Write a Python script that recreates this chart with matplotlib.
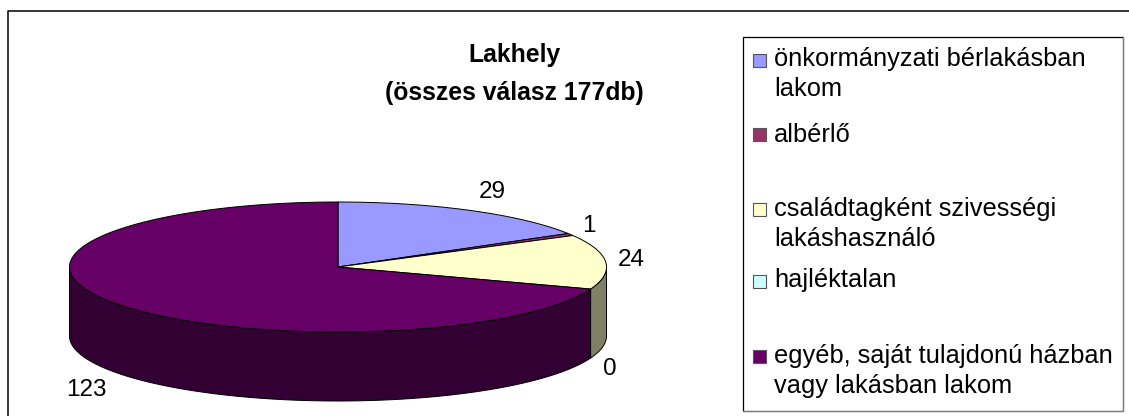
import numpy as np
import matplotlib
matplotlib.use('Agg')
import matplotlib.pyplot as plt
from matplotlib.patches import Polygon, Rectangle

plt.rcParams['font.family'] = ['Liberation Sans', 'DejaVu Sans']

labels = ['önkormányzati bérlakásban\nlakom', 'albérlő',
          'családtagként szivességi\nlakáshasználó', 'hajléktalan',
          'egyéb, saját tulajdonú házban\nvagy lakásban lakom']
values = [29, 1, 24, 0, 123]
colors = ['#9999FF', '#993366', '#FFFFCC', '#CCFFFF', '#660066']
title = 'Lakhely\n(összes válasz 177db)'

# pixel geometry of the pie
cx, cy = 338, 267
rx, ry = 268.5, 65
depth = 69

# value label positions, legend rows
label_pos = [(492, 192), (589, 226), (631, 260), (610, 369), (86, 390)]
legend_y = [60, 136, 210, 281, 357]
swatch_y = [60, 134, 209, 281, 356]


def rim(a, b):
    t = np.radians(np.linspace(a, b, max(int(abs(b - a)) * 2, 2)))
    return np.column_stack([cx + rx * np.sin(t), cy - ry * np.cos(t)])


def darker(c):
    r, g, b = matplotlib.colors.to_rgb(c)
    return (r / 2, g / 2, b / 2)


fig = plt.figure(figsize=(11.29, 4.16), dpi=100)
ax = fig.add_axes([0, 0, 1, 1])
ax.set_xlim(0, 1129)
ax.set_ylim(416, 0)
ax.axis('off')

# chart frame, open at the bottom and right like the source
ax.plot([8, 8, 1129], [416, 10.5, 10.5], color='black', lw=1.1)

edges = np.cumsum([0] + values) / sum(values) * 360

# sides first
for i in range(len(values)):
    a, b = max(edges[i], 90), min(edges[i + 1], 270)
    if b <= a:
        continue
    top = rim(a, b)
    bottom = top[::-1] + [0, depth]
    ax.add_patch(Polygon(np.vstack([top, bottom]), closed=True, fc=darker(colors[i]),
                         ec='black', lw=0.7, zorder=2))

# top faces
for i in range(len(values)):
    if values[i] == 0:
        continue
    pts = np.vstack([[cx, cy], rim(edges[i], edges[i + 1])])
    ax.add_patch(Polygon(pts, closed=True, fc=colors[i], ec='black', lw=0.7, zorder=3))

for v, (x, y) in zip(values, label_pos):
    ax.text(x, y, str(v), fontsize=17.5, ha='center', va='center', color='black')

ax.text(514, 74, title, fontsize=17.8, fontweight='bold', ha='center', va='center',
        linespacing=1.72, color='black')

# legend box
ax.add_patch(Rectangle((742.5, 36.5), 380, 374, fc='white', ec='black', lw=0.9, zorder=1))
ax.plot([743, 1123, 1123], [411, 411, 37], color='#808080', lw=0.8, zorder=1)

for lab, col, ty, sy in zip(labels, colors, legend_y, swatch_y):
    ax.add_patch(Rectangle((752.5, sy - 6.5), 13, 13, fc=col, ec='#555555', lw=0.8, zorder=2))
    ax.text(774, ty - 13, lab, fontsize=18.3, ha='left', va='top', linespacing=1.34, color='black')

fig.savefig('out.png', dpi=100, facecolor='white')
